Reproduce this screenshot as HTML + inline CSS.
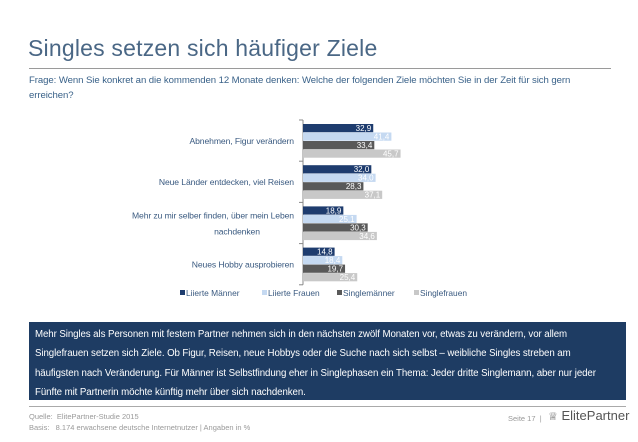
<!DOCTYPE html>
<html><head><meta charset="utf-8"><style>
body{margin:0;width:638px;height:442px;background:#fff;font-family:"Liberation Sans",sans-serif;position:relative;overflow:hidden}
.abs{position:absolute}
</style></head><body>
<div class="abs" style="left:28px;top:35px;font-size:23px;color:#4a6785;letter-spacing:0.2px">Singles setzen sich häufiger Ziele</div>
<div class="abs" style="left:29px;top:68px;width:582px;height:1px;background:#9a9a9a"></div>
<div class="abs" style="left:29px;top:73px;width:580px;font-size:9.6px;line-height:15px;color:#3a6289;letter-spacing:-0.08px;white-space:nowrap">Frage: Wenn Sie konkret an die kommenden 12 Monate denken: Welche der folgenden Ziele möchten Sie in der Zeit für sich gern<br>erreichen?</div>
<svg class="abs" style="left:0;top:0" width="638" height="310" id="chart"></svg>
<div class="abs" style="left:29px;top:322px;width:597px;height:78px;background:#1e3c63;color:#fff;font-size:9.7px;line-height:19.3px;box-sizing:border-box;padding:3px 6px 0 6px;letter-spacing:-0.08px;white-space:nowrap;overflow:hidden">Mehr Singles als Personen mit festem Partner nehmen sich in den nächsten zwölf Monaten vor, etwas zu verändern, vor allem<br>Singlefrauen setzen sich Ziele. Ob Figur, Reisen, neue Hobbys oder die Suche nach sich selbst – weibliche Singles streben am<br>häufigsten nach Veränderung. Für Männer ist Selbstfindung eher in Singlephasen ein Thema: Jeder dritte Singlemann, aber nur jeder<br>Fünfte mit Partnerin möchte künftig mehr über sich nachdenken.</div>
<div class="abs" style="left:29px;top:406px;width:597px;height:1px;background:#aaa"></div>
<div class="abs" style="left:29px;top:411px;font-size:7.5px;line-height:11px;color:#999">Quelle:&nbsp; ElitePartner-Studie 2015<br>Basis:&nbsp;&nbsp; 8.174 erwachsene deutsche Internetnutzer | Angaben in %</div>
<div class="abs" style="left:508px;top:414px;font-size:7.5px;color:#999">Seite 17 &nbsp;|</div>
<div class="abs" style="left:548px;top:408px;font-size:13px;color:#555"><span style="font-size:11px">♕</span> ElitePartner</div>
<script>
const categories=["Abnehmen, Figur verändern","Neue Länder entdecken, viel Reisen","Mehr zu mir selber finden, über mein Leben nachdenken","Neues Hobby ausprobieren"];
const seriesNames=["Liierte Männer","Liierte Frauen","Singlemänner","Singlefrauen"];
const liierteMaenner=[32.9,32.0,18.9,14.8];
const liierteFrauen=[41.4,34.0,25.1,18.4];
const singlemaenner=[33.4,28.3,30.3,19.7];
const singlefrauen=[45.7,37.1,34.6,25.4];
const series=[liierteMaenner,liierteFrauen,singlemaenner,singlefrauen];
const colors=["#1e3c6e","#c5d9f1","#595959","#c8c8c8"];
const svg=document.getElementById('chart');const NS="http://www.w3.org/2000/svg";
const x0=303,k=2.135,gTop=124,gPitch=41.2,bH=8.2,bPitch=8.5;
const xs=v=>x0+v*k;
function el(t,a){const e=document.createElementNS(NS,t);for(const n in a)e.setAttribute(n,a[n]);svg.appendChild(e);return e;}
const axis=el('line',{x1:x0,y1:gTop-4,x2:x0,y2:gTop+4*gPitch-4,stroke:'#888','stroke-width':1});


for(let i=0;i<=4;i++){const y=gTop-4+i*gPitch;const t=el('line',{x1:x0-4,y1:y,x2:x0,y2:y,stroke:'#888'});

}
categories.forEach((c,i)=>{
 const cy=gTop+i*gPitch+2*bPitch;
 const lines=i==2?["Mehr zu mir selber finden, über mein Leben","nachdenken"]:[c];
 lines.forEach((ln,j)=>{const t=el('text',{x:lines.length>1&&j==1?237:294,y:cy+3+(lines.length>1?(j-0.5)*16:0),'text-anchor':lines.length>1&&j==1?'middle':'end','font-size':'8.6','letter-spacing':'-0.1','fill':'#3a5a80'});t.textContent=ln;
 
 });
 series.forEach((s,j)=>{const y=gTop+i*gPitch+j*bPitch;
  const r=el('rect',{x:x0,y:y,width:xs(s[i])-x0,height:bH,fill:colors[j]});
  
  
  const t=el('text',{x:xs(s[i])-2,y:y+7,'text-anchor':'end','font-size':'8','fill':'#fff'});
  t.textContent=s[i].toFixed(1).replace('.',',');
  
  
 });
});
const legX=[180,262,337,414];
seriesNames.forEach((n,j)=>{
 const r=el('rect',{x:legX[j],y:290,width:5,height:5,fill:colors[j]});
 
 
 const t=el('text',{x:legX[j]+6,y:296,'font-size':'8.4','fill':'#3a5a80'});t.textContent=n;
 
 
});
</script>
</body></html>
